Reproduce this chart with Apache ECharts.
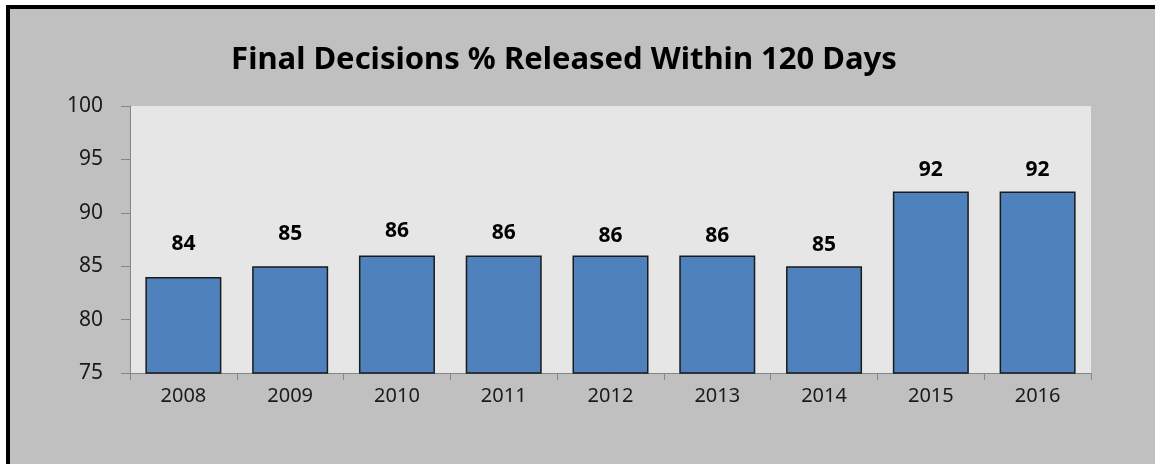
<!DOCTYPE html>
<html>
<head>
<meta charset="utf-8">
<script src="https://cdn.jsdelivr.net/npm/echarts@6/dist/echarts.min.js"></script>
<style>
  html, body { margin: 0; padding: 0; background: #ffffff; }
  #chart { width: 1155px; height: 464px; }
</style>
</head>
<body>
<div id="chart"></div>
<script>
const titleText = 'Final Decisions % Released Within 120 Days';
const years = ['2008', '2009', '2010', '2011', '2012', '2013', '2014', '2015', '2016'];
const pctReleased = [84, 85, 86, 86, 86, 86, 85, 92, 92];
const yTicks = { min: 75, max: 100, interval: 5 };
// label gaps above bars (as placed in the original)
const labelGaps = [22, 22, 14, 12, 9, 9, 11, 11, 11];

const chart = echarts.init(document.getElementById('chart'), null, { renderer: 'canvas' });
const font = '"Noto Sans", "Open Sans", sans-serif';

chart.setOption({
  backgroundColor: '#ffffff',
  animation: false,
  graphic: [
    { type: 'rect', left: 6, top: 5, shape: { width: 1149, height: 459 }, style: { fill: '#000000' }, z: -10 },
    { type: 'rect', left: 10, top: 9, shape: { width: 1145, height: 455 }, style: { fill: '#c0c0c0' }, z: -9 }
  ],
  title: {
    text: titleText,
    left: 559,
    top: 40,
    textAlign: 'center',
    textStyle: { fontFamily: font, fontSize: 31, fontWeight: 'bold', color: '#000000' }
  },
  grid: {
    left: 130, right: 64, top: 106, bottom: 91,
    show: true, backgroundColor: '#e6e6e6', borderWidth: 0
  },
  xAxis: {
    type: 'category',
    data: years,
    axisLine: { lineStyle: { color: '#868686', width: 1 } },
    axisTick: { show: true, length: 7, alignWithLabel: false, lineStyle: { color: '#868686' } },
    axisLabel: { margin: 13, fontFamily: font, fontSize: 20, color: '#1a1a1a' },
    splitLine: { show: false }
  },
  yAxis: {
    type: 'value',
    min: yTicks.min, max: yTicks.max, interval: yTicks.interval,
    axisLine: { show: true, lineStyle: { color: '#868686', width: 1 } },
    axisTick: { show: true, length: 9, lineStyle: { color: '#868686' } },
    axisLabel: { margin: 27, fontFamily: font, fontSize: 21, color: '#1a1a1a' },
    splitLine: { show: false }
  },
  series: [{
    type: 'bar',
    barWidth: 76,
    data: pctReleased.map((v, i) => ({
      value: v,
      label: { distance: labelGaps[i] }
    })),
    itemStyle: { color: '#4f81bd', borderColor: '#1a1a1a', borderWidth: 1.5 },
    label: {
      show: true, position: 'top',
      fontFamily: font, fontSize: 21, fontWeight: 'bold', color: '#000000'
    }
  }]
});
</script>
</body>
</html>
